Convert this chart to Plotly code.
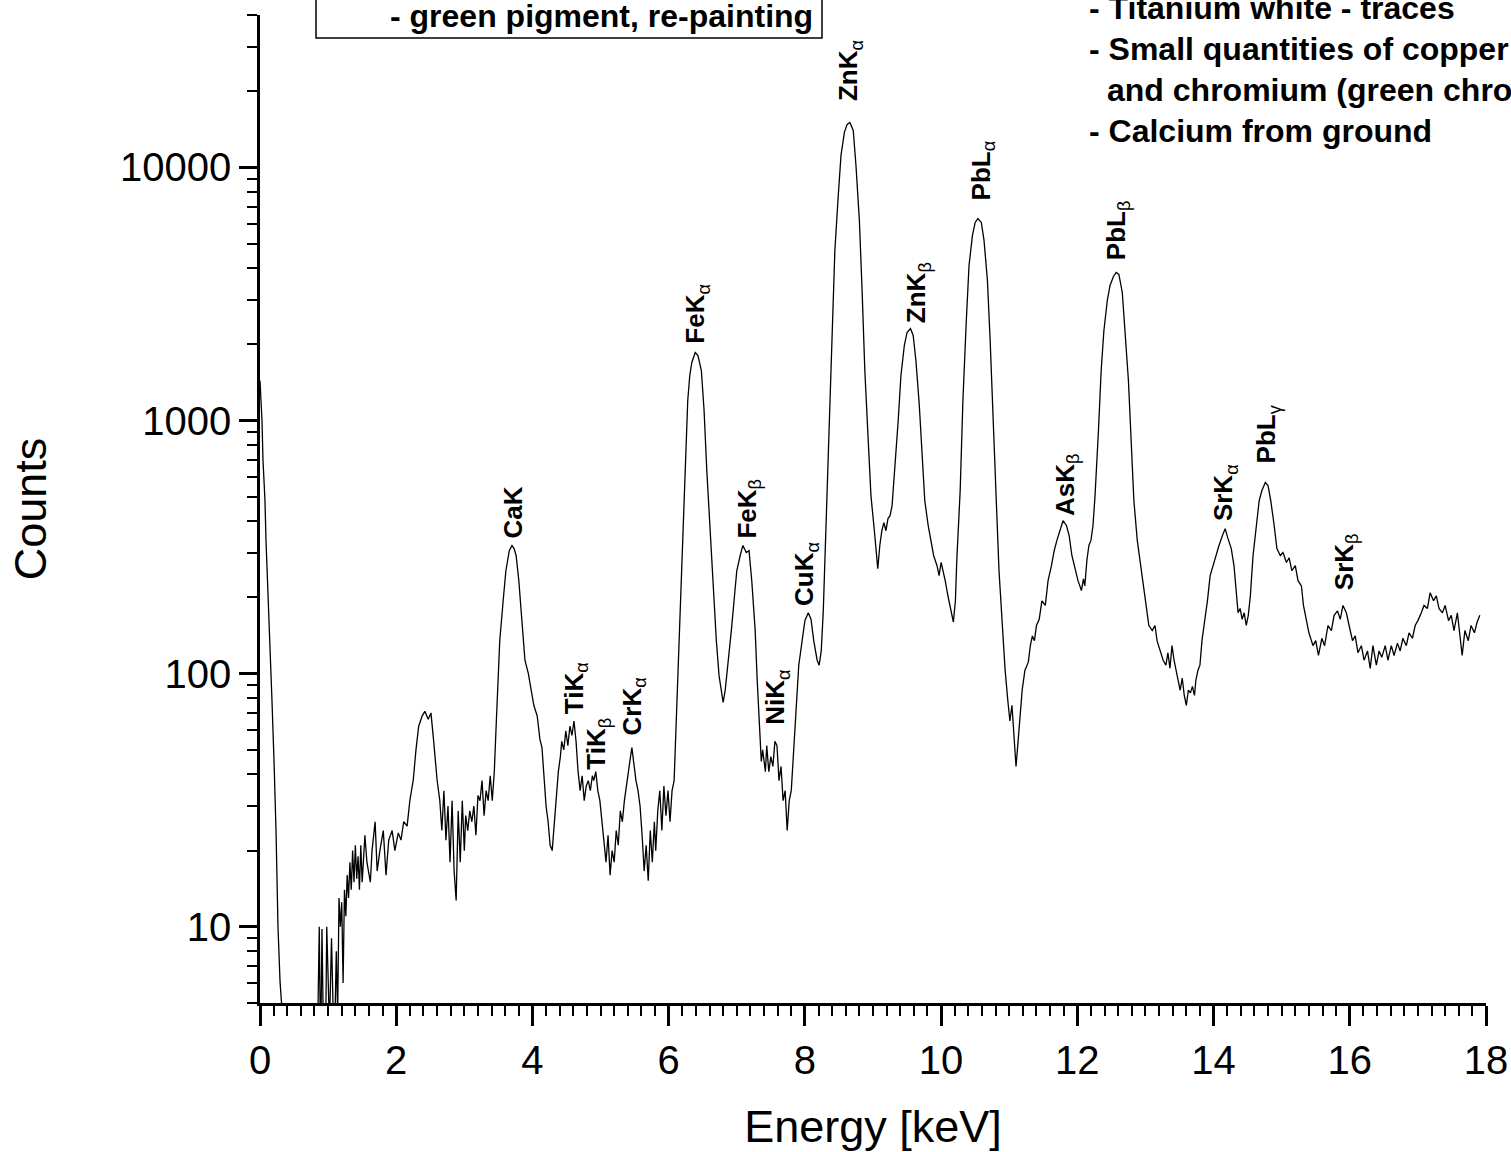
import numpy as np
import plotly.graph_objects as go

# ---- spectrum ----
energy_kev = [
    0.000, 0.015, 0.029, 0.044, 0.073, 0.088, 0.117, 0.147, 0.176, 0.206, 0.235, 0.264, 0.294, 0.323,
    0.37, 0.45, 0.55, 0.65, 0.75, 0.83, 0.85, 0.87, 0.89, 0.91, 0.93, 0.96, 0.98, 1.00, 1.02, 1.05,
    1.07, 1.09, 1.12, 1.14, 1.16, 1.18, 1.20, 1.22, 1.24, 1.26, 1.28, 1.30, 1.32, 1.34, 1.36, 1.38,
    1.40, 1.42, 1.44, 1.46, 1.48, 1.50, 1.54, 1.57, 1.62, 1.645, 1.69, 1.72, 1.76, 1.81, 1.85, 1.89,
    1.94, 1.98, 2.03, 2.07, 2.11, 2.16, 2.20, 2.25, 2.29, 2.33, 2.38, 2.42, 2.47, 2.51, 2.55, 2.60,
    2.64, 2.67, 2.70, 2.73, 2.76, 2.79, 2.82, 2.85, 2.88, 2.91, 2.94, 2.97, 3.00, 3.02, 3.05, 3.08,
    3.11, 3.14, 3.17, 3.20, 3.23, 3.26, 3.29, 3.32, 3.35, 3.38, 3.41, 3.44, 3.47, 3.49, 3.52, 3.57,
    3.61, 3.66, 3.70, 3.73, 3.76, 3.80, 3.85, 3.89, 3.94, 3.98, 4.02, 4.07, 4.11, 4.14, 4.17, 4.20,
    4.23, 4.26, 4.29, 4.32, 4.35, 4.38, 4.41, 4.43, 4.46, 4.49, 4.52, 4.55, 4.58, 4.61, 4.64, 4.67,
    4.70, 4.73, 4.76, 4.79, 4.82, 4.85, 4.88, 4.90, 4.93, 4.96, 4.99, 5.02, 5.05, 5.08, 5.11, 5.14,
    5.17, 5.20, 5.23, 5.26, 5.29, 5.32, 5.35, 5.37, 5.40, 5.43, 5.46, 5.49, 5.52, 5.55, 5.58, 5.61,
    5.64, 5.67, 5.70, 5.73, 5.76, 5.79, 5.81, 5.84, 5.87, 5.90, 5.93, 5.96, 5.99, 6.02, 6.05, 6.08,
    6.11, 6.14, 6.17, 6.20, 6.23, 6.26, 6.28, 6.31, 6.34, 6.39, 6.43, 6.48, 6.52, 6.56, 6.61, 6.65,
    6.70, 6.74, 6.77, 6.80, 6.83, 6.87, 6.92, 6.96, 7.00, 7.05, 7.09, 7.14, 7.18, 7.22, 7.27, 7.30,
    7.33, 7.36, 7.38, 7.42, 7.44, 7.47, 7.50, 7.53, 7.56, 7.59, 7.62, 7.65, 7.68, 7.71, 7.74, 7.77,
    7.80, 7.83, 7.86, 7.89, 7.91, 7.96, 8.00, 8.05, 8.09, 8.13, 8.18, 8.21, 8.24, 8.27, 8.31, 8.36,
    8.40, 8.44, 8.49, 8.53, 8.58, 8.62, 8.66, 8.71, 8.75, 8.80, 8.84, 8.88, 8.93, 8.97, 9.02, 9.05,
    9.07, 9.10, 9.13, 9.16, 9.19, 9.22, 9.25, 9.28, 9.32, 9.37, 9.41, 9.46, 9.50, 9.55, 9.59, 9.63,
    9.68, 9.72, 9.76, 9.81, 9.85, 9.89, 9.94, 9.97, 10.00, 10.03, 10.06, 10.10, 10.15, 10.18, 10.21, 10.23,
    10.28, 10.32, 10.37, 10.41, 10.46, 10.50, 10.54, 10.59, 10.63, 10.68, 10.72, 10.76, 10.81, 10.85, 10.90, 10.94,
    10.98, 11.01, 11.04, 11.07, 11.10, 11.13, 11.16, 11.19, 11.23, 11.28, 11.31, 11.34, 11.37, 11.40, 11.44, 11.48,
    11.53, 11.57, 11.62, 11.66, 11.70, 11.75, 11.79, 11.84, 11.88, 11.92, 11.97, 12.01, 12.06, 12.09, 12.11, 12.14,
    12.17, 12.20, 12.23, 12.26, 12.31, 12.35, 12.39, 12.44, 12.48, 12.53, 12.57, 12.61, 12.66, 12.70, 12.75, 12.79,
    12.83, 12.88, 12.92, 12.97, 13.01, 13.05, 13.10, 13.14, 13.17, 13.22, 13.26, 13.30, 13.33, 13.36, 13.39, 13.42,
    13.45, 13.48, 13.51, 13.54, 13.57, 13.60, 13.63, 13.66, 13.69, 13.72, 13.74, 13.77, 13.80, 13.83, 13.86, 13.91,
    13.95, 13.99, 14.04, 14.08, 14.13, 14.17, 14.21, 14.26, 14.30, 14.33, 14.36, 14.39, 14.42, 14.45, 14.48, 14.51,
    14.54, 14.58, 14.63, 14.67, 14.71, 14.76, 14.80, 14.84, 14.89, 14.93, 14.98, 15.02, 15.07, 15.11, 15.15, 15.20,
    15.24, 15.29, 15.32, 15.37, 15.40, 15.46, 15.50, 15.54, 15.59, 15.63, 15.68, 15.73, 15.77, 15.82, 15.86, 15.90,
    15.95, 15.99, 16.04, 16.08, 16.12, 16.17, 16.21, 16.26, 16.30, 16.34, 16.39, 16.43, 16.47, 16.52, 16.56, 16.61,
    16.65, 16.70, 16.74, 16.78, 16.83, 16.87, 16.92, 16.96, 17.00, 17.05, 17.09, 17.14, 17.18, 17.23, 17.27, 17.31,
    17.36, 17.40, 17.45, 17.49, 17.53, 17.58, 17.62, 17.65, 17.69, 17.74, 17.78, 17.83, 17.87, 17.91,
]
counts = [
    1440, 1200, 1000, 695, 483, 336, 194, 123, 78, 45, 24, 10, 6.1, 4.7,
    2, 1.5, 2, 1.5, 2, 2, 4.5, 10, 3, 9.8, 4, 3, 10, 5, 4, 9,
    6, 3, 8, 4.5, 13, 10, 12.5, 6, 14, 11, 16, 13, 18, 14, 20, 15,
    21, 15.5, 19, 14, 21, 15, 23, 18, 15, 20, 26, 16.6, 20, 24, 16, 22,
    24, 20, 23.5, 22, 26, 25, 31.5, 38, 50, 62, 68, 71, 66, 70, 54, 38,
    31.5, 24, 34.5, 22, 30, 18, 31.5, 16.6, 12.7, 28.7, 18, 31.5, 20, 27.5, 24, 28.7,
    26, 30, 23, 33, 31.5, 37.8, 27.5, 34.5, 31.5, 39.5, 31.5, 41, 65, 94, 135, 194,
    255, 306, 321, 312, 293, 233, 162, 113, 100, 86, 75, 68, 55, 51, 40, 30,
    26, 21, 20, 26, 31.5, 41, 47, 54, 50, 59.5, 52, 62, 57, 65, 54, 41,
    34.5, 39.5, 31.5, 36, 37.8, 34.5, 39.5, 37.8, 41, 34.5, 31.5, 26, 22, 18, 23, 16,
    20, 18, 24, 21, 28.7, 26, 31.5, 34.5, 41, 45, 51, 43, 37.8, 34.5, 30, 23,
    16.6, 21, 15.2, 24, 18, 26, 20, 28.7, 34.5, 24, 36, 27.5, 34.5, 26, 34.5, 37.8,
    65, 113, 194, 336, 579, 913, 1200, 1506, 1695, 1857, 1807, 1576, 1095, 634, 367, 213,
    135, 98, 86, 77, 86, 108, 148, 194, 255, 293, 321, 301, 306, 233, 148, 94,
    65, 45, 50, 41, 52, 41, 47, 43, 54, 52, 37.8, 43, 31.5, 34.5, 24, 31.5,
    34.5, 47, 65, 86, 108, 135, 162, 174, 164, 135, 113, 108, 123, 177, 367, 913,
    2268, 4696, 7750, 11150, 13750, 14790, 15060, 14000, 10180, 6170, 3264, 1576, 834, 505, 367, 306,
    260, 321, 367, 395, 367, 410, 421, 461, 634, 1000, 1506, 1978, 2228, 2310, 2168, 1727,
    1147, 727, 483, 385, 336, 293, 267, 244, 275, 255, 233, 203, 177, 160, 194, 280,
    529, 1200, 2485, 4100, 5385, 6062, 6285, 6062, 5147, 3575, 2071, 1000, 483, 255, 155, 103,
    78, 65, 75, 54, 43, 54, 71, 86, 103, 111, 129, 141, 135, 155, 164, 194,
    186, 233, 267, 306, 336, 374, 402, 385, 351, 293, 255, 233, 213, 237, 222, 280,
    321, 336, 385, 505, 913, 1576, 2268, 2980, 3417, 3707, 3846, 3776, 3206, 2268, 1439, 834,
    483, 336, 280, 222, 194, 155, 148, 155, 135, 123, 113, 108, 121, 105, 129, 113,
    101, 94, 86, 96, 82, 75, 86, 84, 89, 82, 94, 103, 108, 135, 155, 194,
    244, 267, 293, 321, 351, 374, 343, 312, 267, 213, 174, 181, 164, 174, 155, 170,
    203, 293, 402, 483, 529, 569, 553, 483, 385, 312, 293, 301, 275, 287, 255, 267,
    233, 222, 186, 162, 145, 129, 135, 118, 138, 129, 155, 148, 170, 177, 164, 186,
    174, 155, 135, 141, 121, 129, 113, 123, 105, 129, 108, 123, 116, 129, 113, 129,
    118, 132, 123, 138, 129, 145, 138, 155, 162, 174, 186, 181, 209, 194, 203, 181,
    174, 186, 162, 170, 148, 174, 141, 118, 148, 135, 155, 145, 160, 170,
]

# ---- peak labels ----
peak_elements = ["CaK", "TiK", "TiK", "CrK", "FeK", "FeK", "NiK", "CuK",
                 "ZnK", "ZnK", "PbL", "PbL", "AsK", "SrK", "PbL", "SrK"]
peak_lines = ["", "α", "β", "α", "α", "β", "α", "α", "α", "β", "α", "β", "β", "α", "γ", "β"]
peak_energy = [3.715, 4.626, 4.963, 5.477, 6.417, 7.166, 7.59, 8.018,
               8.664, 9.648, 10.60, 12.58, 11.84, 14.17, 14.79, 15.93]
peak_label_counts = [336, 68, 41, 56, 1977, 336, 62, 182,
                     17900, 2373, 7270, 4217, 414, 392, 664, 209]

box_text = "- green pigment, re-painting"
notes = ["- Titanium white - traces",
         "- Small quantities of copper",
         "and chromium (green chromium oxide)",
         "- Calcium from ground"]

x_title = "Energy [keV]"
y_title = "Counts"
y_major = [10, 100, 1000, 10000]

FONT = "Arial, Liberation Sans, sans-serif"

fig = go.Figure()
fig.add_trace(go.Scatter(x=energy_kev, y=counts, mode="lines",
                         line=dict(color="black", width=1.3), showlegend=False))

annotations = []
for el, ln, e, c in zip(peak_elements, peak_lines, peak_energy, peak_label_counts):
    txt = f"<b>{el}</b>" + (f"<sub>{ln}</sub>" if ln else "")
    annotations.append(dict(x=e, y=np.log10(c), xref="x", yref="y", text=txt,
                            showarrow=False, textangle=-90, xanchor="center", yanchor="bottom",
                            font=dict(family=FONT, size=26, color="black")))

annotations.append(dict(x=0.4527, y=0.999, xref="paper", yref="paper", text=f"<b>{box_text}</b>",
                        showarrow=False, xanchor="right", yanchor="middle",
                        font=dict(family=FONT, size=32, color="black")))
note_x = [0.6746, 0.6746, 0.6892, 0.6746]
note_y = [1.0071, 0.9656, 0.9241, 0.8826]
for t, nx, ny in zip(notes, note_x, note_y):
    annotations.append(dict(x=nx, y=ny, xref="paper", yref="paper", text=f"<b>{t}</b>",
                            showarrow=False, xanchor="left", yanchor="middle",
                            font=dict(family=FONT, size=32, color="black")))

minor_y = [k * d for d in [1, 10, 100, 1000, 10000] for k in range(2, 10) if 5 <= k * d <= 40000]

fig.update_layout(
    width=1511, height=1152,
    margin=dict(l=260, r=25, t=15, b=149, autoexpand=False),
    paper_bgcolor="white", plot_bgcolor="white",
    font=dict(family=FONT, color="black"),
    annotations=annotations,
    shapes=[dict(type="rect", xref="paper", yref="paper", x0=0.0457, x1=0.4584, y0=0.9767, y1=1.05,
                 line=dict(color="black", width=1.5), fillcolor="rgba(0,0,0,0)")],
    xaxis=dict(range=[0, 18], dtick=2, tick0=0, showgrid=False, zeroline=False, automargin=False,
               showline=True, linecolor="black", linewidth=2.5,
               ticks="outside", ticklen=20, tickwidth=2.5, tickcolor="black",
               tickfont=dict(family=FONT, size=40, color="black"),
               minor=dict(dtick=0.2, tick0=0, ticks="outside", ticklen=10, tickwidth=2, tickcolor="black"),
               title=dict(text=x_title, font=dict(family=FONT, size=45, color="black"), standoff=30)),
    yaxis=dict(type="log", range=[np.log10(5), np.log10(40000)], tickvals=y_major,
               ticktext=[str(v) for v in y_major], showgrid=False, zeroline=False, automargin=False,
               showline=True, linecolor="black", linewidth=2.5,
               ticks="outside", ticklen=18, tickwidth=2.5, tickcolor="black",
               tickfont=dict(family=FONT, size=40, color="black"),
               minor=dict(tickvals=minor_y, ticks="outside", ticklen=10, tickwidth=2, tickcolor="black"),
               title=dict(text=y_title, font=dict(family=FONT, size=45, color="black"), standoff=60)),
)

fig.write_html("out.html")
